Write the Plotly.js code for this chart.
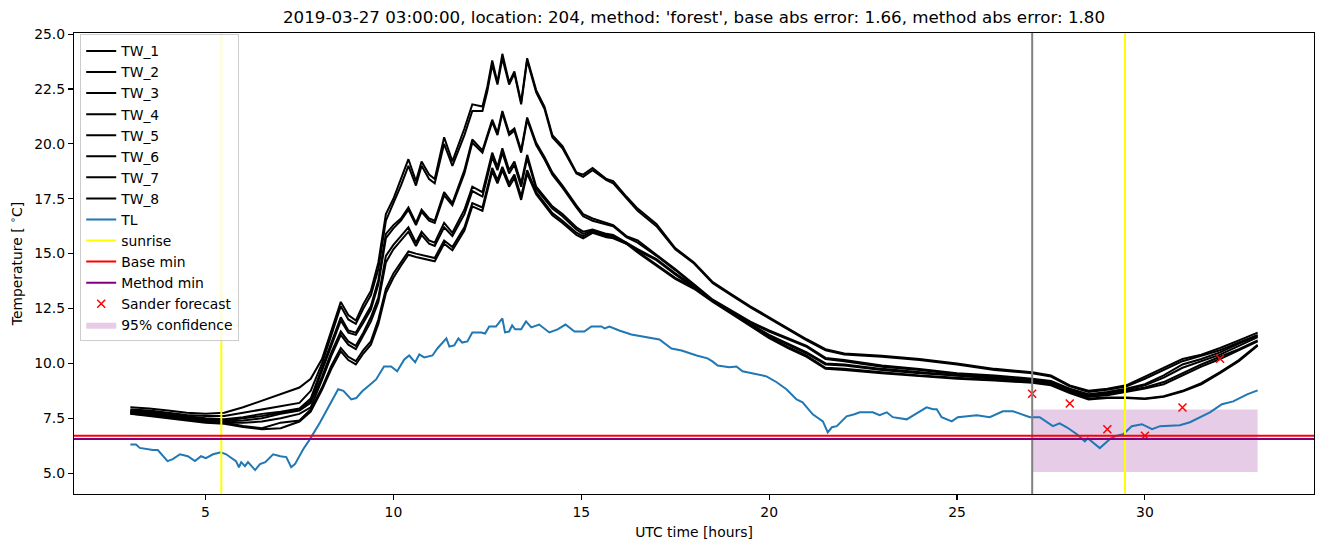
<!DOCTYPE html>
<html><head><meta charset="utf-8">
<script src="https://cdn.plot.ly/plotly-3.0.1.min.js"></script>
<style>html,body{margin:0;padding:0;background:#fff}#chart{width:1324px;height:547px}</style>
</head><body><div id="chart"></div>
<script>
const twHours = [3,3.5,4,4.5,5,5.5,6,6.5,7,7.5,7.8,8.1,8.35,8.6,8.8,9.0,9.2,9.4,9.6,9.8,10.0,10.2,10.4,10.6,10.75,10.95,11.1,11.35,11.57,11.89,12.1,12.37,12.5,12.63,12.77,12.9,13.08,13.22,13.4,13.56,13.8,14.02,14.23,14.5,14.87,15.05,15.3,15.67,15.85,16.2,16.5,17.0,17.5,18.0,18.5,19.0,19.5,20.0,20.5,21.0,21.5,22.0,23.0,24.0,25.0,26.0,27.0,27.5,28.0,28.5,29.0,29.5,30.0,30.5,31.0,31.5,32.0,32.5,33.0];

const tw1 = [8.0,7.95,7.85,7.75,7.7,7.75,8.0,8.3,8.6,8.9,9.3,
10.2,11.5,12.8,12.2,11.95,12.7,13.3,14.6,16.8,17.5,18.4,19.3,18.3,19.2,18.6,18.4,20.3,19.2,20.7,21.8,21.7,22.6,23.8,22.8,24.1,22.8,23.3,21.9,23.9,22.45,21.7,20.4,19.9,18.7,18.6,18.9,18.4,18.3,17.6,17.05,16.35,15.25,14.6,13.7,13.15,12.6,12.1,11.6,11.1,10.65,10.45,10.35,10.2,10.0,9.75,9.6,9.45,9.0,8.75,8.85,9.0,9.4,9.8,10.2,10.4,10.7,11.05,11.4];
const tw2 = [7.9,7.85,7.75,7.65,7.6,7.6,7.75,7.9,8.05,8.2,8.75,
10.0,11.3,12.6,12.0,11.8,12.5,13.1,14.3,16.5,17.3,18.1,19.0,18.1,19.0,18.4,18.2,20.0,19.0,20.4,21.5,21.5,22.4,23.6,22.7,23.9,22.7,23.2,21.8,23.8,22.35,21.6,20.3,19.8,18.65,18.5,18.8,18.35,18.2,17.5,16.95,16.25,15.2,14.55,13.65,13.1,12.55,12.05,11.55,11.05,10.6,10.4,10.3,10.15,9.95,9.7,9.55,9.4,8.95,8.7,8.8,8.95,9.3,9.7,10.1,10.35,10.6,10.95,11.3];
const tw3 = [7.85,7.8,7.7,7.6,7.5,7.45,7.55,7.7,7.8,7.95,8.4,
9.8,11.0,12.1,11.5,11.4,12.0,12.6,13.8,15.9,16.3,16.6,17.1,16.4,17.0,16.6,16.5,17.8,17.3,18.8,20.2,19.7,20.4,21.1,20.5,21.5,20.5,20.7,19.7,21.2,20.05,19.4,18.7,18.1,17.2,16.8,16.6,16.4,16.3,15.8,15.6,14.95,14.3,13.6,12.9,12.4,11.9,11.5,11.15,10.8,10.25,10.15,9.9,9.75,9.55,9.45,9.3,9.2,8.85,8.6,8.7,8.85,9.05,9.45,9.95,10.2,10.5,10.9,11.25];
const tw4 = [7.8,7.75,7.65,7.55,7.45,7.4,7.5,7.6,7.75,7.9,8.3,
9.7,10.85,11.95,11.4,11.3,11.85,12.45,13.6,15.7,16.15,16.5,17.0,16.3,16.9,16.5,16.4,17.65,17.2,18.65,20.05,19.6,20.3,21.0,20.4,21.4,20.4,20.6,19.6,21.1,19.95,19.3,18.6,18.0,17.1,16.7,16.5,16.35,16.25,15.75,15.5,14.9,14.25,13.55,12.85,12.35,11.85,11.45,11.1,10.75,10.2,10.1,9.85,9.7,9.5,9.4,9.25,9.15,8.8,8.55,8.65,8.8,9.0,9.35,9.8,10.1,10.4,10.8,11.2];
const tw5 = [7.75,7.7,7.6,7.5,7.4,7.35,7.4,7.5,7.7,7.85,8.2,
9.4,10.5,11.45,11.0,10.8,11.4,12.1,13.0,14.9,15.4,15.8,16.2,15.5,16.0,15.6,15.5,16.4,15.95,17.0,18.05,17.8,18.7,19.6,18.95,19.8,18.8,19.2,18.2,19.5,18.05,17.6,17.15,16.8,16.2,16.0,16.1,15.9,15.85,15.5,15.2,14.75,14.1,13.5,12.85,12.35,11.8,11.3,10.9,10.5,10.0,9.95,9.75,9.6,9.45,9.35,9.2,9.1,8.75,8.5,8.6,8.75,8.9,9.15,9.55,9.95,10.3,10.65,11.05];
const tw6 = [7.7,7.65,7.55,7.45,7.35,7.3,7.3,7.35,7.5,7.7,8.0,
9.25,10.35,11.3,10.85,10.65,11.25,11.9,12.8,14.6,15.2,15.6,16.0,15.35,15.85,15.45,15.35,16.2,15.8,16.8,17.85,17.6,18.5,19.4,18.8,19.6,18.65,19.05,18.05,19.35,17.95,17.5,17.05,16.7,16.1,15.9,16.05,15.85,15.8,15.45,15.15,14.7,14.05,13.45,12.85,12.3,11.75,11.25,10.85,10.45,9.95,9.9,9.7,9.55,9.45,9.3,9.18,9.08,8.72,8.48,8.55,8.7,8.85,9.05,9.45,9.85,10.2,10.6,11.0];
const tw7 = [7.8,7.7,7.6,7.5,7.4,7.3,7.15,7.05,7.3,7.4,7.9,
8.9,9.9,10.7,10.3,10.1,10.6,11.0,12.0,13.4,14.1,14.6,15.1,15.0,14.95,14.85,14.8,15.6,15.3,16.2,17.3,17.1,18.0,18.9,18.35,18.95,18.2,18.6,17.6,18.8,17.8,17.3,16.85,16.5,15.95,15.8,16.0,15.8,15.75,15.5,15.1,14.5,13.9,13.45,12.85,12.3,11.75,11.2,10.75,10.35,9.8,9.75,9.6,9.45,9.35,9.25,9.15,9.05,8.7,8.4,8.45,8.45,8.4,8.5,8.75,9.1,9.6,10.15,10.85];
const tw8 = [7.7,7.6,7.5,7.4,7.3,7.25,7.1,7.0,7.05,7.35,7.8,
8.8,9.75,10.55,10.15,9.95,10.45,10.85,11.8,13.2,13.9,14.45,14.95,14.85,14.8,14.7,14.65,15.45,15.15,16.05,17.15,16.95,17.85,18.75,18.2,18.8,18.05,18.45,17.45,18.65,17.7,17.2,16.75,16.4,15.85,15.7,15.95,15.75,15.7,15.45,15.05,14.45,13.85,13.4,12.8,12.25,11.7,11.15,10.7,10.3,9.75,9.7,9.55,9.42,9.3,9.22,9.12,9.0,8.65,8.36,8.42,8.42,8.38,8.48,8.72,9.05,9.55,10.1,10.8];

const tlHours = [3.0,3.15,3.25,3.6,3.73,3.99,4.13,4.32,4.53,4.72,4.88,5.01,5.2,5.41,5.55,5.81,5.89,5.95,6.05,6.13,6.32,6.45,6.59,6.8,6.99,7.15,7.28,7.38,7.6,7.78,8.05,8.32,8.53,8.67,8.88,9.01,9.17,9.36,9.54,9.75,9.94,10.1,10.29,10.42,10.58,10.69,10.82,11.04,11.17,11.41,11.49,11.62,11.73,11.83,11.97,12.1,12.34,12.44,12.55,12.73,12.9,12.97,13.08,13.16,13.24,13.4,13.53,13.67,13.88,14.15,14.37,14.58,14.82,15.08,15.27,15.54,15.62,15.75,16.01,16.33,16.73,17.08,17.4,17.67,18.07,18.36,18.49,18.63,18.94,19.13,19.29,19.66,19.93,20.2,20.46,20.73,20.89,21.16,21.43,21.56,21.67,21.8,22.06,22.27,22.41,22.76,22.94,23.13,23.29,23.66,24.01,24.19,24.36,24.46,24.59,24.86,25.02,25.53,25.87,26.22,26.49,26.94,27.2,27.55,27.73,27.92,28.19,28.4,28.48,28.8,29.07,29.2,29.42,29.65,29.92,30.19,30.4,30.93,31.2,31.47,31.73,32.05,32.35,32.72,33.0];
const tlTemp = [6.3,6.3,6.15,6.05,6.05,5.55,5.64,5.86,5.77,5.55,5.77,5.68,5.86,5.95,5.86,5.55,5.27,5.5,5.32,5.5,5.14,5.41,5.5,5.86,5.77,5.73,5.27,5.41,6.09,6.55,7.32,8.15,8.82,8.75,8.36,8.42,8.73,9.0,9.27,9.86,9.86,9.64,10.18,10.36,10.05,10.41,10.27,10.36,10.68,11.14,10.77,10.82,11.14,10.95,11.0,11.41,11.41,11.36,11.68,11.68,12.05,11.41,11.45,11.73,11.55,11.55,11.91,11.64,11.77,11.41,11.55,11.77,11.45,11.45,11.68,11.68,11.59,11.68,11.5,11.32,11.18,11.09,10.68,10.59,10.36,10.23,10.09,9.9,9.82,9.86,9.64,9.5,9.41,9.14,8.82,8.36,8.23,7.68,7.36,6.86,7.09,7.14,7.59,7.68,7.77,7.77,7.64,7.77,7.55,7.45,7.82,8.0,7.91,7.91,7.55,7.36,7.55,7.64,7.55,7.82,7.82,7.55,7.55,7.14,7.27,7.09,6.77,6.45,6.59,6.14,6.55,6.68,6.77,7.14,7.23,7.0,7.14,7.18,7.32,7.55,7.77,8.14,8.27,8.59,8.77];

const sunriseHours = [5.42, 29.47];
const forecastHour = 27.0;
const baseMin = 6.70;
const methodMin = 6.56;
const sanderHours = [27, 28, 29, 30, 31, 32];
const sanderTemp = [8.62, 8.17, 7.0, 6.70, 7.99, 10.21];
const confStart = 27, confEnd = 33, confLow = 5.05, confHigh = 7.9;

const twSeries = [tw1, tw2, tw3, tw4, tw5, tw6, tw7, tw8];
const FONT = 'DejaVu Sans, Liberation Sans, sans-serif';

const traces = [];
traces.push({
  x: [confStart, confEnd, confEnd, confStart, confStart],
  y: [confLow, confLow, confHigh, confHigh, confLow],
  type: 'scatter', mode: 'lines', fill: 'toself',
  fillcolor: 'rgba(128,0,128,0.2)', line: {width: 0, color: 'rgba(0,0,0,0)'},
  name: '95% confidence', legendrank: 14, hoverinfo: 'skip'
});
twSeries.forEach((s, i) => {
  traces.push({x: twHours, y: s, type: 'scatter', mode: 'lines',
    line: {color: '#000000', width: 2}, name: 'TW_' + (i + 1), legendrank: i + 1});
});
traces.push({x: tlHours, y: tlTemp, type: 'scatter', mode: 'lines',
  line: {color: '#1f77b4', width: 2}, name: 'TL', legendrank: 9});
traces.push({x: sanderHours, y: sanderTemp, type: 'scatter', mode: 'markers',
  marker: {symbol: 'x-thin', size: 8, color: '#ff0000', line: {color: '#ff0000', width: 1.5}},
  name: 'Sander forecast', legendrank: 13});

const shapes = [];
sunriseHours.forEach((h, i) => {
  shapes.push({type: 'line', xref: 'x', yref: 'paper', x0: h, x1: h, y0: 0, y1: 1,
    line: {color: '#ffff00', width: 2}, name: 'sunrise', showlegend: i === 0, legendrank: 10});
});
shapes.push({type: 'line', xref: 'x', yref: 'paper', x0: forecastHour, x1: forecastHour, y0: 0, y1: 1,
  line: {color: '#808080', width: 2}});
shapes.push({type: 'line', xref: 'paper', yref: 'y', x0: 0, x1: 1, y0: baseMin, y1: baseMin,
  line: {color: '#ff0000', width: 2}, name: 'Base min', showlegend: true, legendrank: 11});
shapes.push({type: 'line', xref: 'paper', yref: 'y', x0: 0, x1: 1, y0: methodMin, y1: methodMin,
  line: {color: '#800080', width: 2}, name: 'Method min', showlegend: true, legendrank: 12});

const layout = {
  width: 1324, height: 547,
  margin: {l: 74, r: 10, t: 33, b: 53},
  paper_bgcolor: '#ffffff', plot_bgcolor: '#ffffff',
  font: {family: FONT, size: 13.9, color: '#000000'},
  title: {text: "2019-03-27 03:00:00, location: 204, method: 'forest', base abs error: 1.66, method abs error: 1.80",
    font: {family: FONT, size: 16.7, color: '#000000'}, x: 0.5, xref: 'paper', xanchor: 'center',
    y: 1 - 17 / 547, yref: 'container', yanchor: 'middle'},
  xaxis: {range: [1.5, 34.5], tickvals: [5, 10, 15, 20, 25, 30], ticktext: ['5','10','15','20','25','30'],
    showgrid: false, zeroline: false, showline: true, linecolor: '#000', linewidth: 1.1, mirror: true,
    ticks: 'outside', ticklen: 5, tickwidth: 1.1, tickcolor: '#000',
    tickfont: {family: FONT, size: 13.9, color: '#000'},
    title: {text: 'UTC time [hours]', font: {family: FONT, size: 13.9, color: '#000'}, standoff: 8}},
  yaxis: {range: [4.05, 25.05], tickvals: [5, 7.5, 10, 12.5, 15, 17.5, 20, 22.5, 25],
    ticktext: ['5.0','7.5','10.0','12.5','15.0','17.5','20.0','22.5','25.0'],
    showgrid: false, zeroline: false, showline: true, linecolor: '#000', linewidth: 1.1, mirror: true,
    ticks: 'outside', ticklen: 5, tickwidth: 1.1, tickcolor: '#000',
    tickfont: {family: FONT, size: 13.9, color: '#000'},
    title: {text: 'Temperature [ <sup>∘</sup>C]', font: {family: FONT, size: 13.9, color: '#000'}, standoff: 8}},
  showlegend: true,
  legend: {x: 0.005, y: 0.997, xanchor: 'left', yanchor: 'top', bgcolor: 'rgba(255,255,255,0.8)',
    bordercolor: '#cccccc', borderwidth: 1, font: {family: FONT, size: 13.9, color: '#000'},
    itemwidth: 30, traceorder: 'normal'},
  shapes: shapes
};

Plotly.newPlot('chart', traces, layout, {displayModeBar: false, staticPlot: true});
</script></body></html>
